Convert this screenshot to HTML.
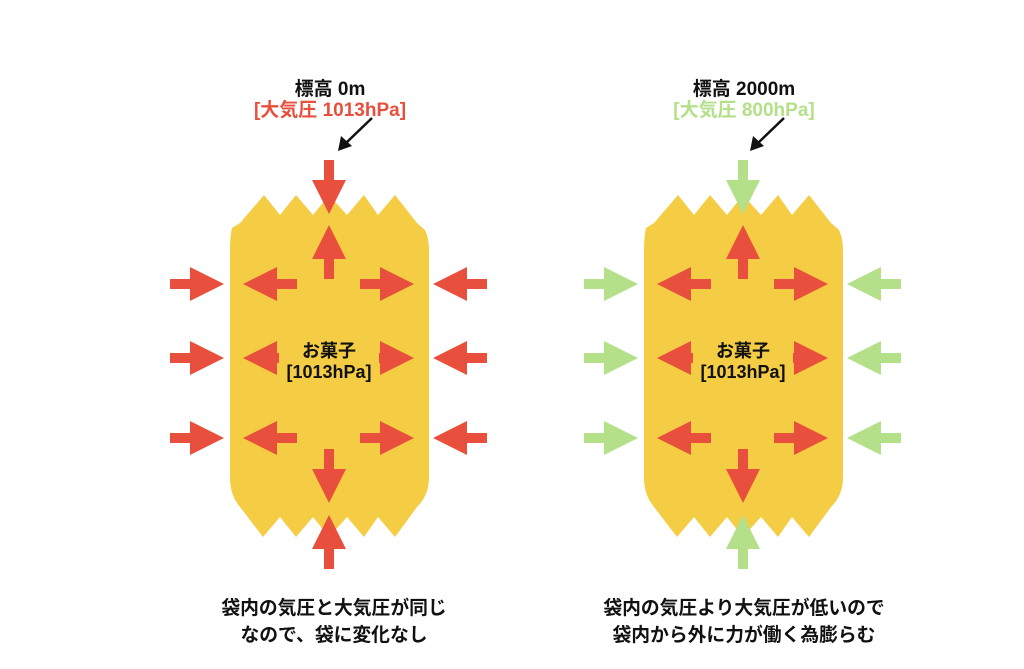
<!DOCTYPE html>
<html><head><meta charset="utf-8"><style>
html,body{margin:0;padding:0;background:#fff;}
svg{display:block;}
text{font-family:"Liberation Sans","Noto Sans CJK JP",sans-serif;font-weight:bold;text-anchor:middle;}
</style></head><body>
<svg width="1024" height="669" viewBox="0 0 1024 669" xmlns="http://www.w3.org/2000/svg">
<defs>
  <path id="bag" fill="#f5cd45" d="M232,228 L240,223 L264,195 L280,215 L296,195 L313,215 L329,195 L347,215 L364,195 L378,215 L395,195 L417,223 L425,230 Q429,238 429,250 L429,478 Q429,495 417,507 L395,537 L378,517 L364,537 L347,517 L329,537 L313,517 L296,537 L280,517 L263,537 L240,507 Q230,495 230,478 L230,250 Q230,236 232,228 Z"/>
  <path id="ar" d="M-54,-5 L-34,-5 L-34,-17 L0,0 L-34,17 L-34,5 L-54,5 Z"/>
</defs>

<g id="left">
  <use href="#bag"/>
  <g fill="#e94f3d">
    <use href="#ar" transform="translate(224,284)"/>
    <use href="#ar" transform="translate(224,358)"/>
    <use href="#ar" transform="translate(224,438)"/>
    <use href="#ar" transform="translate(433,284) rotate(180)"/>
    <use href="#ar" transform="translate(433,358) rotate(180)"/>
    <use href="#ar" transform="translate(433,438) rotate(180)"/>
    <use href="#ar" transform="translate(329,214) rotate(90)"/>
    <use href="#ar" transform="translate(329,515) rotate(-90)"/>
  </g>
</g>
<g id="right" transform="translate(414,0)">
  <use href="#bag"/>
  <g fill="#b3e088">
    <use href="#ar" transform="translate(224,284)"/>
    <use href="#ar" transform="translate(224,358)"/>
    <use href="#ar" transform="translate(224,438)"/>
    <use href="#ar" transform="translate(433,284) rotate(180)"/>
    <use href="#ar" transform="translate(433,358) rotate(180)"/>
    <use href="#ar" transform="translate(433,438) rotate(180)"/>
    <use href="#ar" transform="translate(329,214) rotate(90)"/>
    <use href="#ar" transform="translate(329,515) rotate(-90)"/>
  </g>
</g>
<g fill="#e94f3d">
  <g id="inner">
    <use href="#ar" transform="translate(243,284) rotate(180)"/>
    <use href="#ar" transform="translate(243,358) rotate(180)"/>
    <use href="#ar" transform="translate(243,438) rotate(180)"/>
    <use href="#ar" transform="translate(414,284)"/>
    <use href="#ar" transform="translate(414,358)"/>
    <use href="#ar" transform="translate(414,438)"/>
    <use href="#ar" transform="translate(329,225) rotate(-90)"/>
    <use href="#ar" transform="translate(329,503) rotate(90)"/>
  </g>
  <use href="#inner" transform="translate(414,0)"/>
</g>
<rect x="279" y="340" width="100" height="42" fill="#f5cd45"/>
<rect x="693" y="340" width="100" height="42" fill="#f5cd45"/>
<g font-size="18" fill="#111">
  <text x="329" y="357">お菓子</text>
  <text x="329" y="378">[1013hPa]</text>
  <text x="743" y="357">お菓子</text>
  <text x="743" y="378">[1013hPa]</text>
</g>
<g font-size="19">
  <text x="330" y="95" fill="#111">標高 0m</text>
  <text x="330" y="116" fill="#e94f3d">[大気圧 1013hPa]</text>
  <text x="744" y="95" fill="#111">標高 2000m</text>
  <text x="744" y="116" fill="#b3e088">[大気圧 800hPa]</text>
</g>
<g stroke="#111" stroke-width="2.5" fill="#111">
  <line x1="372" y1="118" x2="346" y2="143"/>
  <line x1="784" y1="118" x2="758" y2="143"/>
</g>
<polygon points="338,151 341,136 352,146" fill="#111"/>
<polygon points="750,151 753,136 764,146" fill="#111"/>
<g font-size="18.8" fill="#111">
  <text x="334" y="614">袋内の気圧と大気圧が同じ</text>
  <text x="334" y="641">なので、袋に変化なし</text>
  <text x="744" y="614">袋内の気圧より大気圧が低いので</text>
  <text x="744" y="641">袋内から外に力が働く為膨らむ</text>
</g>
</svg>
</body></html>
